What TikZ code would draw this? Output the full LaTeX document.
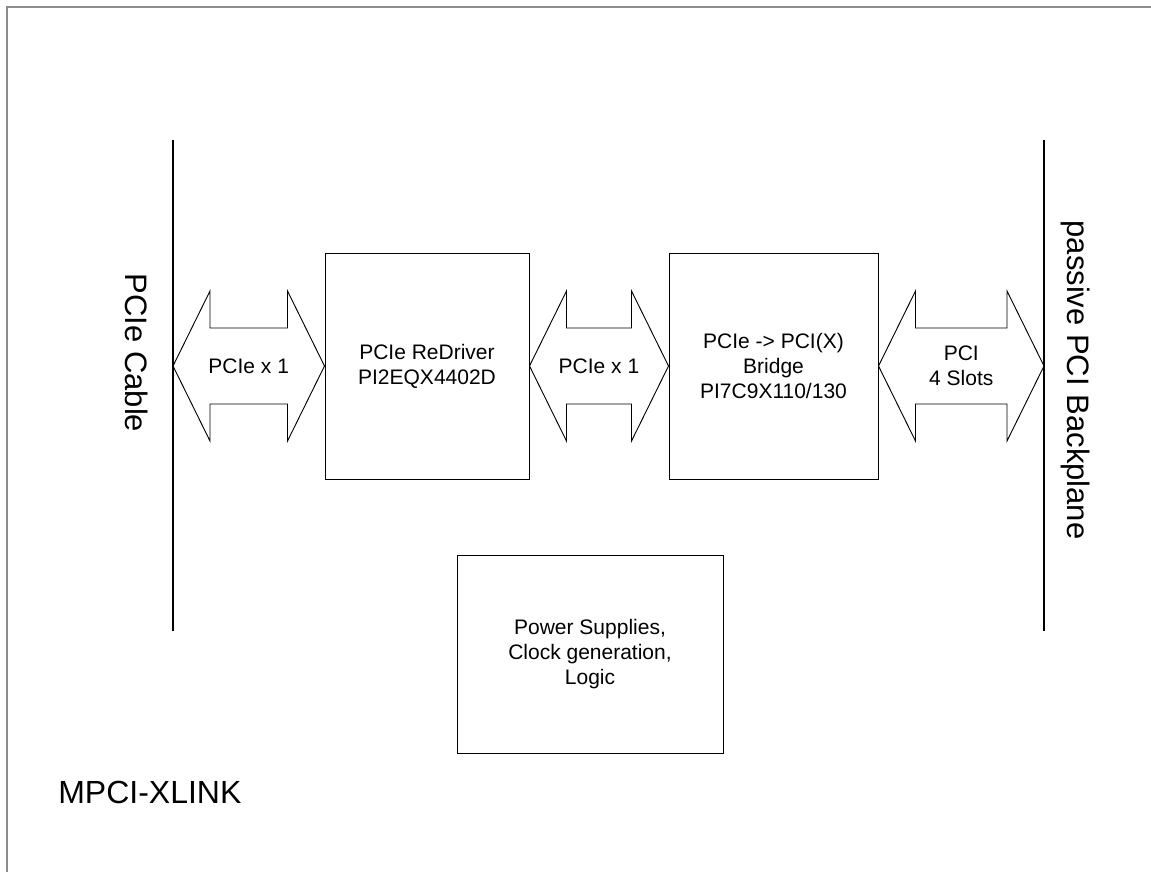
\documentclass[tikz,border=0pt]{standalone}
\usepackage{fontspec}
\setmainfont{Liberation Sans}
\usetikzlibrary{calc}
\newcommand{\pxu}{0.75pt}
\newcommand{\fatarrow}[2]{%
  \draw[fat] (#1) -- ($(#1)+(37,-75)$) -- ($(#1)+(37,-38)$) -- ($(#2)+(-37,-38)$)
    -- ($(#2)+(-37,-75)$) -- (#2) -- ($(#2)+(-37,75)$) -- ($(#2)+(-37,38)$)
    -- ($(#1)+(37,38)$) -- ($(#1)+(37,75)$) -- cycle;}
\begin{document}
\begin{tikzpicture}[x=0.75pt,y=-0.75pt,
  blk/.style={draw=black, line width=0.75pt, align=center, inner sep=0pt,
    font=\fontsize{15.75}{18.6}\selectfont},
  fat/.style={draw=black, line width=0.7pt, line join=miter},
  lbl/.style={align=center, inner sep=0pt, font=\fontsize{15.75}{18.6}\selectfont},
  bus/.style={draw=black, line width=1.5pt},
  big/.style={inner sep=0pt, font=\fontsize{23.25}{28}\selectfont}]
\useasboundingbox (0,0) rectangle (1151,872);
\fill[white] (0,0) rectangle (1151,872);
% frame
\draw[gray!90, line width=1.5pt] (7,872) -- (7,7) -- (1151,7);
% connector lines
\coordinate (cabtop) at (173,140);
\coordinate (cabbot) at (173,631);
\coordinate (bptop) at (1044,140);
\coordinate (bpbot) at (1044,631);
\draw[bus] (cabtop) -- (cabbot);
\draw[bus] (bptop) -- (bpbot);
\coordinate (cabmid) at (173,366);
\coordinate (bpmid) at (1044,366);
% side labels
\node[big, rotate=-90, anchor=base] (cable) at (125,353) {PCIe Cable};
\node[big, rotate=-90, anchor=base] (backplane) at (1067,380) {passive PCI Backplane};
% blocks
\node[blk, minimum width=204*\pxu, minimum height=226*\pxu] (redrv) at (427,366)
  {PCIe ReDriver\\PI2EQX4402D};
\node[blk, minimum width=209*\pxu, minimum height=226*\pxu] (bridge) at (773.5,366)
  {PCIe -> PCI(X)\\Bridge\\PI7C9X110/130};
\node[blk, minimum width=266*\pxu, minimum height=198*\pxu] (power) at (590,654)
  {Power Supplies,\\Clock generation,\\Logic};
% fat arrows
\fatarrow{cabmid}{redrv.west}
\fatarrow{redrv.east}{bridge.west}
\fatarrow{bridge.east}{bpmid}
\node[lbl] (l1) at ($(cabmid)!0.5!(redrv.west)$) {PCIe x 1};
\node[lbl] (l2) at ($(redrv.east)!0.5!(bridge.west)$) {PCIe x 1};
\node[lbl] (l3) at ($(bridge.east)!0.5!(bpmid)$) {PCI\\4 Slots};
% title
\node[inner sep=0pt, anchor=base west, font=\fontsize{24}{29}\selectfont] (title) at (58,803) {MPCI-XLINK};
\end{tikzpicture}
\end{document}
